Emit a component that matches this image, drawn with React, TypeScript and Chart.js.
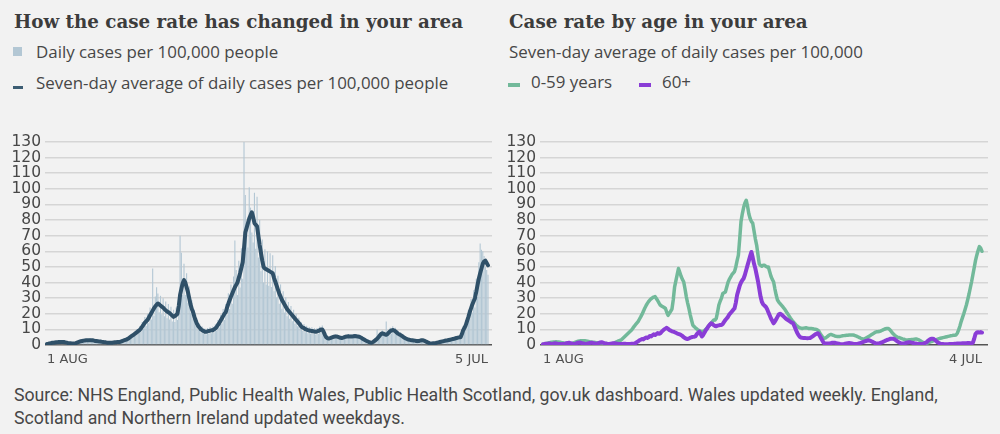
import React, { useEffect, useRef } from "react";
import { Chart, registerables } from "chart.js";

Chart.register(...registerables);

// Daily cases per 100,000 people (1 Aug 2020 – 5 Jul 2021)
const dailyCases: number[] = [
  0.5, 1, 1.3, 0.8, 1.8, 1.2, 2, 2.4, 1.5, 2.2,
  2.6, 1.6, 2.8, 1.5, 2, 1.1, 1.6, 0.9, 1.4, 0.8,
  1.3, 0.7, 1.6, 1.2, 2.4, 1.7, 3, 2.2, 3.5, 2.4,
  3.6, 2.5, 3.4, 4.5, 2.7, 3.6, 2.2, 3.2, 2, 2.9,
  1.8, 2.7, 1.6, 2.4, 1.4, 2.2, 1.2, 1.9, 1.1, 1.8,
  1.2, 2, 1.4, 2.3, 1.5, 2.5, 1.6, 2.9, 2.1, 3.8,
  2.7, 4.4, 3.2, 5.8, 4.2, 7.2, 5.1, 8.7, 6.1, 10.2,
  7.2, 12, 8.5, 14.8, 10.4, 17.9, 12.2, 20, 14, 24,
  16.4, 49, 18.8, 31, 37, 33, 21, 31.5, 19.7, 30,
  18.4, 27.8, 17.2, 26.3, 16.3, 24.5, 15, 22.5, 14.8, 24,
  16, 31, 70, 59, 32, 52, 32, 46, 27, 37.5,
  20.8, 28.7, 16.8, 22.5, 12.4, 16.9, 9.6, 13.8, 8, 11.9,
  7.2, 10.6, 6.8, 10.9, 7.2, 11.5, 7.5, 11.9, 8, 13.3,
  9.2, 16, 11.2, 19.4, 13.6, 23.1, 16, 26.3, 19.2, 33.1,
  23, 38.8, 26.4, 43.8, 67, 48, 32, 54, 36.8, 62,
  42.4, 133, 96, 75, 62.4, 101, 88, 72, 65.6, 97.5,
  61.6, 95, 56, 80, 47.2, 67.5, 40, 61.3, 38.8, 60,
  38, 58.8, 37.2, 57.5, 34.4, 50.6, 30.4, 44.4, 26.4, 38.8,
  23.2, 34.4, 20.8, 30.6, 18.4, 27.5, 16.8, 25, 15.2, 22.5,
  13.6, 20, 12, 17.5, 10.4, 14.6, 9, 13.5, 8.2, 12.3,
  7.6, 11.6, 7.3, 11.3, 7, 10.8, 6.8, 10.9, 7.2, 11.9,
  8, 12.5, 6.8, 8.1, 4, 5.4, 3.4, 5.5, 3.8, 6.3,
  4.2, 6.9, 4.3, 6.5, 3.9, 5.8, 3.6, 5.9, 4, 6.6,
  4.4, 7, 4.4, 6.8, 4.4, 7, 4.6, 7, 4.4, 6.6,
  4, 5.8, 3.2, 4.4, 2.4, 3.3, 1.8, 2.3, 1.2, 1.9,
  1.6, 3.3, 2.6, 10, 4, 7.5, 5.6, 9.4, 5.8, 8.5,
  15, 8.8, 6.4, 11, 7.4, 12, 7.5, 11, 6.4, 9.1,
  5.4, 8, 4.6, 6.5, 3.7, 5.3, 3, 4.4, 2.6, 3.9,
  2.4, 3.6, 2.2, 3.3, 2, 3.3, 2.2, 3.8, 2.4, 3.5,
  1.9, 2.5, 1.3, 1.5, 0.8, 1.3, 0.9, 1.5, 1, 1.9,
  1.4, 2.4, 1.7, 2.9, 2, 3.4, 2.3, 3.8, 2.6, 4.3,
  2.9, 4.8, 3.2, 5.4, 3.6, 5.9, 3.9, 6.3, 5.6, 11.9,
  8.8, 16, 12.4, 22.5, 16.8, 29.4, 20.8, 35, 24, 42.5,
  30.8, 53, 65, 61, 60, 57, 50, 48, 45,
];

// Seven-day average of daily cases per 100,000 people
const sevenDayAverage: number[] = [
  0.7, 0.8, 1, 1.2, 1.4, 1.5, 1.6, 1.7, 1.8, 1.9,
  2, 2, 2, 1.9, 1.7, 1.5, 1.3, 1.2, 1.1, 1,
  1, 1, 1.2, 1.5, 1.8, 2.1, 2.4, 2.6, 2.8, 2.9,
  3, 3.1, 3, 3, 3.1, 3, 2.8, 2.6, 2.5, 2.4,
  2.3, 2.2, 2, 1.9, 1.8, 1.7, 1.5, 1.5, 1.4, 1.4,
  1.5, 1.6, 1.7, 1.8, 1.9, 2, 2, 2.3, 2.6, 3,
  3.3, 3.5, 4, 4.6, 5.2, 5.8, 6.4, 7, 7.6, 8.2,
  9, 9.6, 10.6, 11.8, 13, 14.3, 15.2, 16, 17.5, 19,
  20.5, 22, 23.5, 24.8, 25.8, 26.6, 26, 25.2, 24.6, 24,
  23, 22.2, 21.5, 21, 20.4, 19.6, 18.8, 18, 18.5, 19.2,
  20, 25, 32, 36, 39.5, 41.5, 40, 37, 34, 30,
  26, 23, 21, 18, 15.5, 13.5, 12, 11, 10, 9.5,
  9, 8.5, 8.5, 8.7, 9, 9.2, 9.4, 9.5, 10, 10.6,
  11.5, 12.8, 14, 15.5, 17, 18.5, 20, 21, 24, 26.5,
  28.8, 31, 33, 35, 37, 38.5, 40, 43, 46, 49.5,
  53, 62, 72, 75, 78, 81, 83, 85, 82, 78,
  77, 76, 70, 64, 59, 54, 50, 49, 48.5, 48,
  47.5, 47, 46.5, 46, 43, 40.5, 38, 35.5, 33, 31,
  29, 27.5, 26, 24.5, 23, 22, 21, 20, 19, 18,
  17, 16, 15, 14, 13, 11.7, 11.2, 10.8, 10.2, 9.8,
  9.5, 9.3, 9.1, 9, 8.8, 8.6, 8.5, 8.7, 9, 9.5,
  10, 10, 8.5, 6.5, 5, 4.3, 4.2, 4.4, 4.7, 5,
  5.3, 5.5, 5.4, 5.2, 4.9, 4.6, 4.5, 4.7, 5, 5.3,
  5.5, 5.6, 5.5, 5.4, 5.5, 5.6, 5.7, 5.6, 5.5, 5.3,
  5, 4.6, 4, 3.5, 3, 2.6, 2.2, 1.8, 1.5, 1.5,
  2, 2.6, 3.3, 4, 5, 6, 7, 7.5, 7.2, 6.8,
  6.5, 7, 8, 8.8, 9.3, 9.6, 9.4, 8.8, 8, 7.3,
  6.8, 6.4, 5.8, 5.2, 4.6, 4.2, 3.8, 3.5, 3.3, 3.1,
  3, 2.9, 2.8, 2.6, 2.5, 2.6, 2.8, 3, 3, 2.8,
  2.4, 2, 1.6, 1.2, 1, 1, 1.1, 1.2, 1.3, 1.5,
  1.7, 1.9, 2.1, 2.3, 2.5, 2.7, 2.9, 3, 3.2, 3.4,
  3.6, 3.8, 4, 4.3, 4.5, 4.7, 4.9, 5, 7, 9.5,
  11, 12.8, 15.5, 18, 21, 23.5, 26, 28, 30, 34,
  38.5, 42.6, 46, 49, 52, 53.5, 54, 52.5, 51,
];

// Seven-day average by age (1 Aug 2020 – 4 Jul 2021)
const ages0to59: number[] = [
  0.5, 0.7, 0.9, 1.1, 1.3, 1.5, 1.7, 1.8, 1.9, 2,
  2.1, 2, 1.9, 1.8, 1.6, 1.5, 1.3, 1.2, 1.1, 1,
  1, 1, 1, 1.2, 1.5, 1.8, 2.1, 2.4, 2.6, 2.7,
  2.8, 2.8, 2.8, 2.6, 2.4, 2.2, 2, 1.9, 1.8, 1.7,
  1.6, 1.5, 1.5, 1.4, 1.3, 1.2, 1.1, 1, 0.9, 0.9,
  0.8, 0.8, 0.8, 0.8, 1.1, 1.4, 1.8, 2.2, 2.6, 2.9,
  3.2, 4, 4.8, 5.6, 6.4, 7.2, 8, 8.8, 9.6, 10.8,
  11.9, 13, 14, 15, 16.5, 18, 19.6, 21.4, 23.4, 25,
  26.5, 27.8, 28.8, 29.6, 30.2, 30.7, 31, 29.8, 28.5, 27,
  25.6, 25, 24.5, 24, 23.4, 21, 19, 20.3, 21.6, 23,
  29, 37, 41, 45, 49, 46.5, 44, 42, 40.5, 36,
  31, 27, 23.4, 19.5, 16, 12.8, 11.8, 11, 10.3, 9.6,
  9.2, 8.9, 8.7, 8.5, 9.2, 10, 11, 12, 13, 14,
  15, 16, 16, 17, 21, 25.6, 28, 30, 33, 33.5,
  34, 37, 40, 42, 43.5, 45, 46, 47, 50, 54,
  57.5, 68, 79, 84, 88, 91, 92.7, 89, 84, 81,
  79, 78, 73, 68, 64, 58, 52, 51, 50.5, 51,
  51, 50.5, 50, 50, 47, 44, 42, 40.5, 36, 32,
  28.8, 27.5, 26.5, 25.5, 24.5, 23.5, 22.4, 21, 19.8, 18.5,
  17.2, 16, 15, 14, 13, 12.2, 11.5, 11, 10.8, 10.6,
  10.8, 10.9, 11, 10.8, 10.6, 10.6, 10.5, 10.4, 10.2, 10.1,
  10, 9.5, 8.5, 7, 5.8, 4.8, 4.3, 4.6, 5.2, 5.9,
  6.5, 6.8, 6.5, 6.1, 5.8, 5.6, 5.5, 5.4, 5.5, 5.7,
  5.9, 6, 6.1, 6.2, 6.3, 6.4, 6.4, 6.4, 6.4, 6.2,
  5.9, 5.5, 5.1, 4.7, 4.3, 4, 3.8, 4, 4.5, 5,
  5.5, 6, 6.5, 7, 7.6, 8.1, 8.5, 8.5, 8.6, 8.9,
  9.3, 9.7, 10.1, 10.4, 10.6, 10.6, 10, 9, 8, 7,
  6.2, 5.5, 5.1, 4.8, 4.5, 4.2, 3.9, 3.7, 3.4, 3.2,
  3.2, 3.3, 3.4, 3.5, 3.6, 3.7, 3.8, 3.8, 3.5, 3,
  2.5, 2, 1.6, 1.2, 1, 1.2, 1.5, 1.8, 2.1, 2.4,
  2.8, 3.1, 3.5, 3.8, 4.1, 4.3, 4.5, 4.7, 4.9, 5.1,
  5.3, 5.5, 5.7, 5.9, 6, 6.2, 6.3, 6.4, 7.5, 9.5,
  12, 15, 17.5, 20, 22.8, 25.6, 29, 32.5, 36.5, 40.5,
  45, 49.5, 54, 57.5, 60.5, 63, 62, 60,
];

const ages60plus: number[] = [
  0.5, 0.6, 0.8, 0.7, 0.9, 1, 0.8, 0.7, 0.9, 1.1,
  1, 0.8, 0.7, 0.6, 0.5, 0.6, 0.7, 0.9, 1.1, 1.3,
  1.4, 1.2, 1, 0.8, 0.7, 0.9, 1.2, 1.5, 1.6, 1.4,
  1.2, 1, 0.8, 0.7, 0.9, 1, 1.3, 1.5, 1.4, 1.1,
  0.9, 0.8, 1, 1.3, 1.6, 1.8, 1.5, 1.2, 1, 0.8,
  0.7, 0.6, 0.8, 1, 1.2, 1.1, 0.9, 0.8, 0.7, 0.6,
  0.6, 0.7, 0.8, 0.8, 0.7, 0.6, 0.6, 0.7, 0.8, 0.8,
  0.8, 1.2, 1.8, 2.4, 3, 3.4, 3.8, 3.6, 4.2, 4.8,
  4.5, 5, 5.8, 5.5, 6.2, 6.8, 6.4, 7, 7.6, 7.2,
  7.5, 8.4, 9.2, 10, 10.5, 11, 10.4, 9.6, 9.2, 8.8,
  8.5, 8.2, 7.8, 7.4, 7, 6.8, 6.4, 5.8, 5, 4.4,
  4, 3.8, 4.2, 4.6, 5, 5.2, 5.3, 5.5, 6.8, 7.8,
  8.5, 7, 5.5, 6.5, 8, 9.5, 10.6, 12, 13, 13.9,
  13.5, 12.8, 12.2, 12, 12.4, 12.6, 12.8, 12.8, 13.5, 14.8,
  16, 17, 18, 19.5, 20.5, 21.5, 22.5, 23.4, 27, 32,
  35, 38, 40, 41.5, 42.6, 45, 48, 51, 54, 57,
  59.6, 56, 52, 49, 45, 41, 36, 31, 27.7, 26,
  25.2, 24.5, 23, 21, 19, 17, 15.5, 13.9, 15, 16.5,
  18, 19.5, 20, 19.5, 18.8, 18, 17.2, 16.5, 16, 15.4,
  14.8, 14.3, 13.9, 12, 10, 8, 6.5, 5.3, 4.8, 4.6,
  4.5, 4.5, 4.4, 4.3, 4.4, 4.5, 5, 5.6, 6.2, 6.8,
  7.2, 7.5, 6.5, 5, 3.5, 2, 1, 1, 0.9, 0.9,
  1, 1.2, 1.4, 1.5, 1.4, 1.2, 1, 0.8, 0.6, 0.5,
  0.5, 0.6, 0.8, 1, 1.2, 1.3, 1.2, 1, 0.8, 0.7,
  0.6, 0.7, 0.9, 1.1, 1.4, 1.7, 2, 2.3, 2.6, 2.8,
  3, 2.8, 2.4, 2, 1.6, 1.2, 1, 0.9, 1, 1.3,
  1.6, 2, 2.4, 2.8, 3.2, 3.5, 3.8, 4, 4, 4,
  3.6, 3, 2.4, 1.8, 1.4, 1, 0.9, 1, 1.2, 1.4,
  1.6, 1.8, 1.7, 1.5, 1.3, 1.1, 1, 0.8, 0.7, 0.6,
  0.6, 0.7, 0.9, 1.2, 1.6, 2.2, 3, 3.6, 4, 4,
  3.8, 3.2, 2.4, 1.7, 1.2, 0.9, 0.7, 0.6, 0.5, 0.5,
  0.5, 0.5, 0.6, 0.6, 0.7, 0.7, 0.8, 0.8, 0.9, 0.9,
  1, 1, 1.1, 1.1, 1.2, 1.2, 1.3, 1.3, 1.2, 1.1,
  1.5, 4, 7, 8, 8.2, 8, 8.3, 8,
];

const leftDateLabels = ["1 AUG", "5 JUL"];
const rightDateLabels = ["1 AUG", "4 JUL"];
const yMax = 130;
const yStep = 10;

const toXY = (arr: number[]) => arr.map((v, i) => ({ x: i, y: v }));

const TEXT = "#474747";
const GRID = "#d5d5d5";
const BASE = "#555555";

function makeScales(dateLabels: string[], lastIndex: number, xMin: number, xMax: number, yWidth: number) {
  return {
    x: {
      type: "linear" as const,
      min: xMin,
      max: xMax,
      offset: false,
      grid: { display: false },
      border: { display: false },
      afterBuildTicks: (s: any) => {
        s.ticks = [{ value: 0 }, { value: lastIndex }];
      },
      afterFit: (s: any) => {
        s.height = 25;
      },
      ticks: {
        autoSkip: false,
        maxRotation: 0,
        align: "inner" as const,
        padding: -1,
        color: "#505050",
        font: { family: "DejaVu Sans", size: 13 },
        callback: (_v: any, i: number) => dateLabels[i],
      },
    },
    y: {
      min: 0,
      max: yMax,
      border: { display: false },
      afterFit: (s: any) => {
        s.width = yWidth;
      },
      grid: {
        drawTicks: false,
        color: (c: any) => (c.tick && c.tick.value === 0 ? BASE : GRID),
        lineWidth: 1.5,
      },
      ticks: {
        stepSize: yStep,
        autoSkip: false,
        padding: 4,
        color: TEXT,
        font: { family: "DejaVu Sans", size: 15.5, lineHeight: 1 },
      },
    },
  };
}

function LeftChart() {
  const ref = useRef<HTMLCanvasElement>(null);
  useEffect(() => {
    const chart = new Chart(ref.current as HTMLCanvasElement, {
      type: "bar",
      data: {
        datasets: [
          {
            type: "line",
            data: toXY(sevenDayAverage),
            borderColor: "#2f5068",
            borderWidth: 4,
            pointRadius: 0,
            tension: 0,
            borderJoinStyle: "round",
            borderCapStyle: "round",
          } as any,
          {
            type: "bar",
            data: toXY(dailyCases),
            backgroundColor: "#b3c7d4",
            barPercentage: 0.85,
            categoryPercentage: 1,
          } as any,
        ],
      },
      options: {
        animation: false,
        responsive: false,
        maintainAspectRatio: false,
        layout: { padding: { left: 0, right: 8, top: 12, bottom: 0 } },
        plugins: { legend: { display: false }, tooltip: { enabled: false } },
        scales: makeScales(leftDateLabels, dailyCases.length - 1, -1.53, 341.07, 45) as any,
      },
    });
    return () => chart.destroy();
  }, []);
  return <canvas ref={ref} width={500} height={240} style={{ position: "absolute", left: 0, top: 130, width: 500, height: 240 }} />;
}

function RightChart() {
  const ref = useRef<HTMLCanvasElement>(null);
  useEffect(() => {
    const chart = new Chart(ref.current as HTMLCanvasElement, {
      type: "line",
      data: {
        datasets: [
          {
            data: toXY(ages60plus),
            borderColor: "#8a3dd6",
            borderWidth: 4,
            pointRadius: 0,
            tension: 0,
            borderJoinStyle: "round",
            borderCapStyle: "round",
          },
          {
            data: toXY(ages0to59),
            borderColor: "#72b99a",
            borderWidth: 3.5,
            pointRadius: 0,
            tension: 0,
            borderJoinStyle: "round",
            borderCapStyle: "round",
          },
        ],
      },
      options: {
        animation: false,
        responsive: false,
        maintainAspectRatio: false,
        layout: { padding: { left: 0, right: 12, top: 12, bottom: 0 } },
        plugins: { legend: { display: false }, tooltip: { enabled: false } },
        scales: makeScales(rightDateLabels, ages0to59.length - 1, -2.3, 341.6, 40) as any,
      },
    });
    return () => chart.destroy();
  }, []);
  return <canvas ref={ref} width={500} height={240} style={{ position: "absolute", left: 500, top: 130, width: 500, height: 240 }} />;
}

const titleStyle: React.CSSProperties = {
  position: "absolute",
  top: 12.8,
  fontFamily: '"DejaVu Serif", serif',
  fontWeight: "bold",
  fontSize: 18.3,
  lineHeight: "18.3px",
  color: "#3c3c3c",
  whiteSpace: "nowrap",
};

const sansStyle: React.CSSProperties = {
  position: "absolute",
  fontFamily: '"Open Sans", sans-serif',
  fontSize: 16.9,
  lineHeight: "16px",
  color: TEXT,
  whiteSpace: "nowrap",
};

export default function App() {
  useEffect(() => {
    document.body.style.margin = "0";
    document.body.style.background = "#f2f2f2";
  }, []);
  return (
    <div style={{ position: "relative", width: 1000, height: 434, background: "#f2f2f2", overflow: "hidden" }}>
      <div style={{ ...titleStyle, left: 14 }}>How the case rate has changed in your area</div>
      <div style={{ position: "absolute", left: 13, top: 47, width: 9, height: 9, background: "#b3c7d4" }} />
      <div style={{ ...sansStyle, left: 36, top: 43.5 }}>Daily cases per 100,000 people</div>
      <div style={{ position: "absolute", left: 13, top: 86, width: 10, height: 3, background: "#3c5d73" }} />
      <div style={{ ...sansStyle, left: 36, top: 74.5 }}>Seven-day average of daily cases per 100,000 people</div>

      <div style={{ ...titleStyle, left: 509 }}>Case rate by age in your area</div>
      <div style={{ ...sansStyle, left: 509, top: 43.5 }}>Seven-day average of daily cases per 100,000</div>
      <div style={{ position: "absolute", left: 508, top: 83, width: 12, height: 3.5, background: "#72b99a" }} />
      <div style={{ ...sansStyle, left: 531, top: 73.5 }}>0-59 years</div>
      <div style={{ position: "absolute", left: 639, top: 83, width: 12, height: 3.5, background: "#8a3dd6" }} />
      <div style={{ ...sansStyle, left: 662, top: 73.5 }}>60+</div>

      <LeftChart />
      <RightChart />

      <div style={{ ...sansStyle, left: 14, top: 384, fontFamily: 'Roboto, sans-serif', fontSize: 17.7, lineHeight: "23px" }}>
        Source: NHS England, Public Health Wales, Public Health Scotland, gov.uk dashboard. Wales updated weekly. England,
        <br />
        Scotland and Northern Ireland updated weekdays.
      </div>
    </div>
  );
}
